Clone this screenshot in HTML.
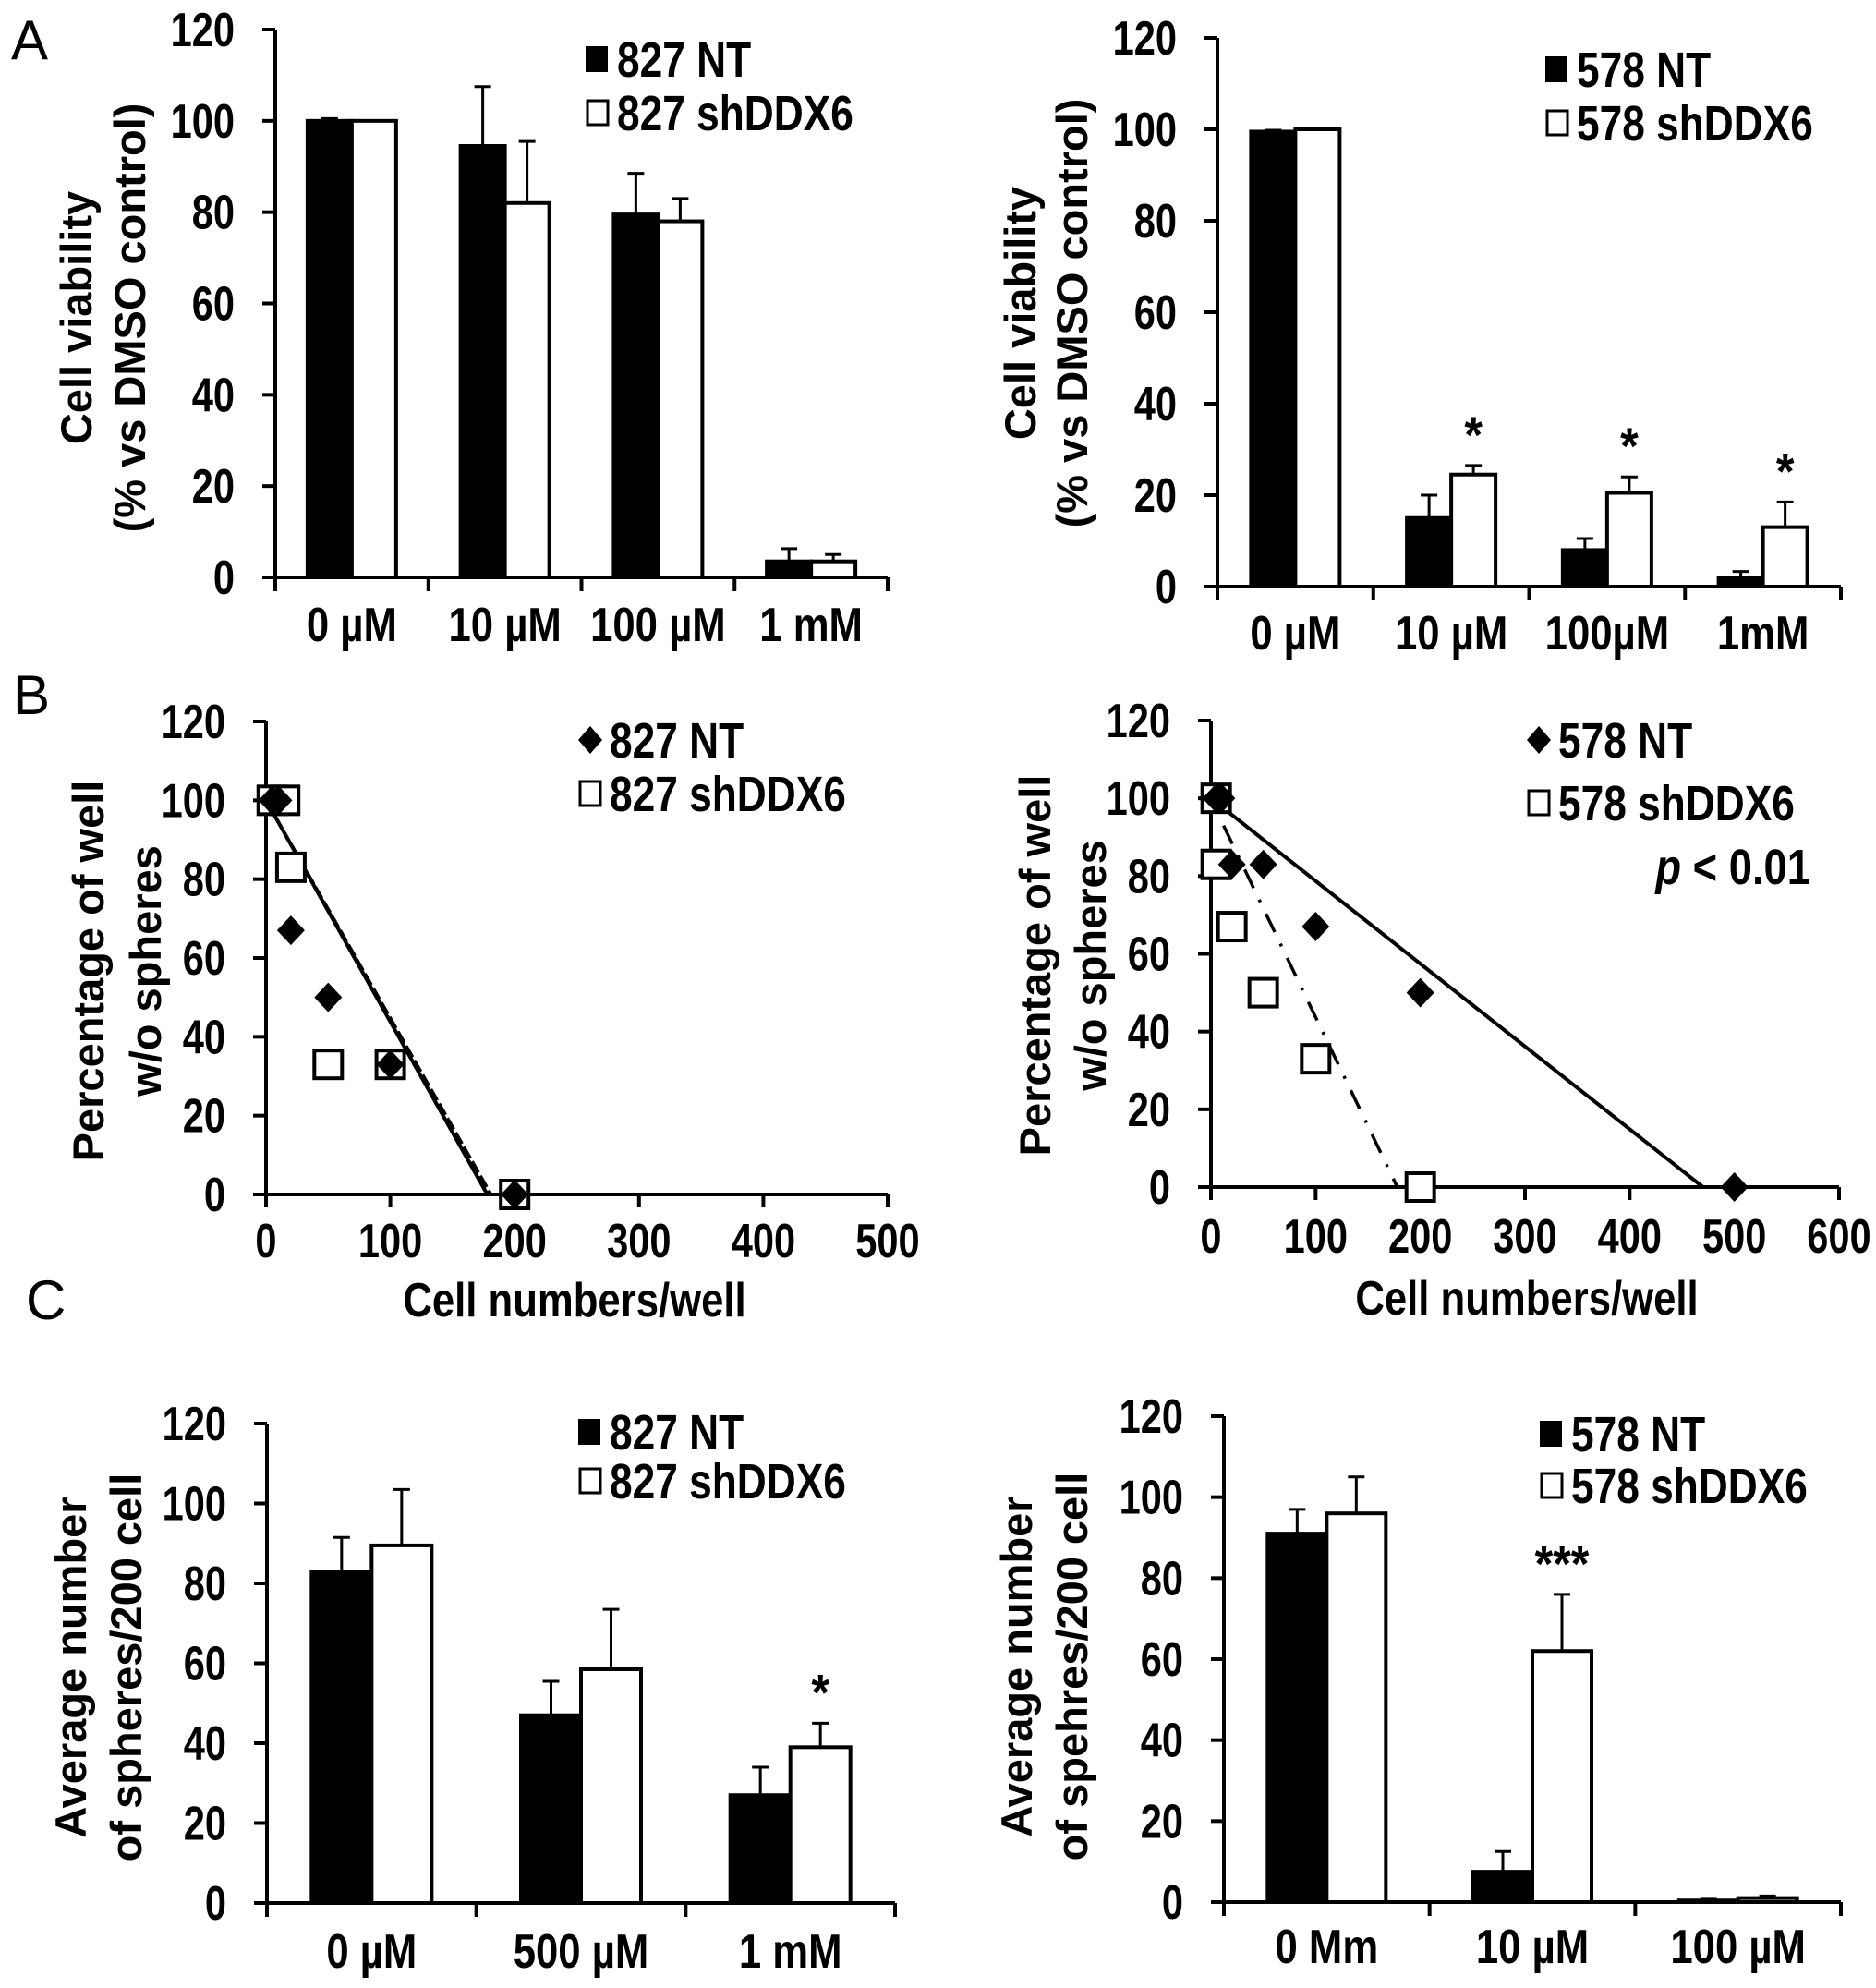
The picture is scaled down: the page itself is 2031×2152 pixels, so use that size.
<!DOCTYPE html>
<html><head><meta charset="utf-8"><style>
html,body{margin:0;padding:0;background:#fff;}
svg{display:block;}
text{font-family:"Liberation Sans",Arial,sans-serif;font-weight:bold;fill:#000;}
.ytitle{font-size:47px;}
.plab{font-size:60px;font-weight:normal;}
</style></head><body>
<svg id="fig" width="2031" height="2152" viewBox="0 0 2031 2152" xmlns="http://www.w3.org/2000/svg">
<text class="plab" x="12" y="64">A</text>
<text class="plab" x="14" y="773">B</text>
<text class="plab" x="28" y="1428">C</text>
</svg>
<script>
// ---- Panel A left data ----
const aLeftCats = ["0 µM","10 µM","100 µM","1 mM"];
const aLeftNT = [100,94.5,79.5,3.5];
const aLeftNTErr = [0.5,13,9,2.8];
const aLeftSh = [100,82,78,3.5];
const aLeftShErr = [0,13.5,5,1.5];
const aLeftStars = ["","","",""];
// ---- Panel A right data ----
const aRightCats = ["0 µM","10 µM","100µM","1mM"];
const aRightNT = [99.5,15,8,2];
const aRightNTErr = [0.3,5,2.5,1.3];
const aRightSh = [100,24.5,20.5,13];
const aRightShErr = [0,2,3.5,5.5];
const aRightStars = ["","*","*","*"];
// ---- Panel C left data ----
const cLeftCats = ["0 µM","500 µM","1 mM"];
const cLeftNT = [83,47,27];
const cLeftNTErr = [8.5,8.5,7];
const cLeftSh = [89.5,58.5,39];
const cLeftShErr = [14,15,6];
const cLeftStars = ["","","*"];
// ---- Panel C right data ----
const cRightCats = ["0 Mm","10 µM","100 µM"];
const cRightNT = [91,7.5,0.4];
const cRightNTErr = [6,5,0.3];
const cRightSh = [96,62,1];
const cRightShErr = [9,14,0.5];
const cRightStars = ["","***",""];
// ---- Panel B left data ----
const bLeftNTx = [5,10,20,50,100,200];
const bLeftNTy = [100,100,67,50,33,0];
const bLeftShx = [5,15,20,50,100,200];
const bLeftShy = [100,100,83,33,33,0];
const bLeftFitNT = [[0,100],[178,0]];
const bLeftFitSh = [[0,100],[181,0]];
const bLeftXTicks = [0,100,200,300,400,500];
// ---- Panel B right data ----
const bRightNTx = [5,10,20,50,100,200,500];
const bRightNTy = [100,100,83,83,67,50,0];
const bRightShx = [5,5,20,50,100,200];
const bRightShy = [100,83,67,50,33,0];
const bRightFitNT = [[0,100],[470,0]];
const bRightFitSh = [[12,93],[178,0]];
const bRightXTicks = [0,100,200,300,400,500,600];
const yTicks = [0,20,40,60,80,100,120];

const NS = "http://www.w3.org/2000/svg";
const svg = document.getElementById("fig");
function mk(tag, attrs, parent){
  const e = document.createElementNS(NS, tag);
  for (const k in attrs) e.setAttribute(k, attrs[k]);
  (parent||svg).appendChild(e);
  return e;
}
function ctext(g, x, y, anchor, size, sx, str){
  const t = mk("text",{x:0,y:0,"text-anchor":anchor,"font-size":size,transform:`translate(${x},${y}) scale(${sx},1)`},g);
  t.textContent = str;
  return t;
}

function yAxis(g, ax, y0, y120){
  const ys = v => y0 - (y0 - y120) * v / 120;
  const l = mk("line",{x1:ax,y1:y0,x2:ax,y2:y120,stroke:"#000","stroke-width":4},g);
  
  
  yTicks.forEach(v=>{
    const t = mk("line",{x1:ax-14,y1:ys(v),x2:ax,y2:ys(v),stroke:"#000","stroke-width":4},g);
    
    
    const tx = ctext(g, ax-44, ys(v)+18, "end", 52, 0.8, v);
    
    
  });
  return ys;
}

function yTitle(g, x1, x2, cy, l1, l2){
  const t1 = mk("text",{x:0,y:0,"text-anchor":"middle",class:"ytitle",transform:`translate(${x1+17},${cy}) rotate(-90)`},g);
  t1.textContent = l1;
  
  
  const t2 = mk("text",{x:0,y:0,"text-anchor":"middle",class:"ytitle",transform:`translate(${x2+17},${cy}) rotate(-90)`},g);
  t2.textContent = l2;
  
  
}

function legend(g, x, yA, yB, labA, labB, markA){
  if (markA === "diamond"){
    const d = mk("polygon",{points:`${x+13},${yA-15} ${x+26},${yA} ${x+13},${yA+15} ${x},${yA}`,fill:"#000"},g);
    
    
  } else {
    const r = mk("rect",{x:x,y:yA-14,width:24,height:28,fill:"#000"},g);
    
    
  }
  const r2 = mk("rect",{x:x+2,y:yB-13,width:22,height:26,fill:"#fff",stroke:"#000","stroke-width":3},g);
  
  
  const t1 = ctext(g, x+34, yA+19, "start", 54, 0.82, labA);
  
  
  const t2 = ctext(g, x+34, yB+19, "start", 54, 0.82, labB);
  
  
}

function barChart(name, o, cats, nt, ntErr, sh, shErr, stars){
  const g = mk("g",{});
  
  
  const ys = v => o.y0 - (o.y0 - o.y120) * v / 120;
  const cw = (o.x1 - o.ax) / cats.length;
  function bar(x, v, e, fill, nm){
    const r = mk("rect",{x:x,y:ys(v),width:o.bw,height:o.y0-ys(v),fill:fill,stroke:"#000","stroke-width":4},g);
    
    
    if (e > 0){
      const cx = x + o.bw/2;
      const l = mk("line",{x1:cx,y1:ys(v),x2:cx,y2:ys(v+e),stroke:"#000","stroke-width":3},g);
      
      
      const c = mk("line",{x1:cx-9,y1:ys(v+e),x2:cx+9,y2:ys(v+e),stroke:"#000","stroke-width":3},g);
      
      
    }
  }
  cats.forEach((c,i)=>{
    const cx = o.ax + cw*(i+0.5);
    bar(cx - o.bw, nt[i], ntErr[i], "#000", "bar-nt-"+i);
    bar(cx, sh[i], shErr[i], "#fff", "bar-shddx6-"+i);
    const lab = ctext(g, cx, o.labY, "middle", 52, 0.84, c);
    
    
    if (stars[i]){
      const s = ctext(g, cx+o.bw/2, ys(sh[i]+shErr[i])-14, "middle", 56, 0.9, stars[i]);
      
      
    }
  });
  yAxis(g, o.ax, o.y0, o.y120);
  const xl = mk("line",{x1:o.ax-14,y1:o.y0,x2:o.x1,y2:o.y0,stroke:"#000","stroke-width":4},g);
  
  
  for (let i=0;i<=cats.length;i++){
    const tx = o.ax + cw*i;
    const t = mk("line",{x1:tx,y1:o.y0,x2:tx,y2:o.y0+15,stroke:"#000","stroke-width":4},g);
    
    
  }
  yTitle(g, o.t1, o.t2, o.tcy, o.l1, o.l2);
  legend(g, o.legX, o.legA, o.legB, o.labA, o.labB, "square");
}

function scatterChart(name, o, ntx, nty, shx, shy, fitNT, fitSh, xt){
  const g = mk("g",{});
  
  
  const ys = v => o.y0 - (o.y0 - o.y120) * v / 120;
  const xs = v => o.ax + (o.x1 - o.ax) * v / o.xmax;
  yAxis(g, o.ax, o.y0, o.y120);
  const xl = mk("line",{x1:o.ax-14,y1:o.y0,x2:o.x1,y2:o.y0,stroke:"#000","stroke-width":4},g);
  
  
  xt.forEach(v=>{
    const t = mk("line",{x1:xs(v),y1:o.y0,x2:xs(v),y2:o.y0+14,stroke:"#000","stroke-width":4},g);
    
    
    const tl = ctext(g, xs(v), o.tickY, "middle", 52, 0.8, v);
    
    
  });
  const f1 = mk("line",{x1:xs(fitNT[0][0]),y1:ys(fitNT[0][1]),x2:xs(fitNT[1][0]),y2:ys(fitNT[1][1]),stroke:"#000","stroke-width":4},g);
  
  
  const f2 = mk("line",{x1:xs(fitSh[0][0]),y1:ys(fitSh[0][1]),x2:xs(fitSh[1][0]),y2:ys(fitSh[1][1]),stroke:"#000","stroke-width":3.5,"stroke-dasharray":o.dash},g);
  
  
  shx.forEach((x,i)=>{
    const r = mk("rect",{x:xs(x)-15,y:ys(shy[i])-15,width:30,height:30,fill:"#fff",stroke:"#000","stroke-width":4},g);
    
    
  });
  ntx.forEach((x,i)=>{
    const cx = xs(x), cy = ys(nty[i]);
    const d = mk("polygon",{points:`${cx},${cy-16} ${cx+15},${cy} ${cx},${cy+16} ${cx-15},${cy}`,fill:"#000"},g);
    
    
  });
  const xtitle = ctext(g, o.titleX, o.titleY, "middle", 52, 0.84, "Cell numbers/well");
  
  
  yTitle(g, o.t1, o.t2, o.tcy, "Percentage of well", "w/o spheres");
  legend(g, o.legX, o.legA, o.legB, o.labA, o.labB, "diamond");
}

barChart("chart-a-left",{ax:298,x1:961,y0:625,y120:32,bw:48,labY:694,t1:82,t2:140,tcy:344,l1:"Cell viability",l2:"(% vs DMSO control)",legX:634,legA:64,legB:122,labA:"827 NT",labB:"827 shDDX6"},aLeftCats,aLeftNT,aLeftNTErr,aLeftSh,aLeftShErr,aLeftStars);
barChart("chart-a-right",{ax:1318,x1:1993,y0:635,y120:41,bw:48,labY:703,t1:1104,t2:1160,tcy:339,l1:"Cell viability",l2:"(% vs DMSO control)",legX:1673,legA:75,legB:133,labA:"578 NT",labB:"578 shDDX6"},aRightCats,aRightNT,aRightNTErr,aRightSh,aRightShErr,aRightStars);
barChart("chart-c-left",{ax:289,x1:969,y0:2060,y120:1541,bw:65,labY:2130,t1:76,t2:136,tcy:1805,l1:"Average number",l2:"of spheres/200 cell",legX:626,legA:1550,legB:1603,labA:"827 NT",labB:"827 shDDX6"},cLeftCats,cLeftNT,cLeftNTErr,cLeftSh,cLeftShErr,cLeftStars);
barChart("chart-c-right",{ax:1325,x1:1993,y0:2059,y120:1533,bw:64,labY:2125,t1:1100,t2:1160,tcy:1804,l1:"Average number",l2:"of spehres/200 cell",legX:1667,legA:1552,legB:1608,labA:"578 NT",labB:"578 shDDX6"},cRightCats,cRightNT,cRightNTErr,cRightSh,cRightShErr,cRightStars);
scatterChart("chart-b-left",{ax:288,x1:961,xmax:500,y0:1293,y120:781,tickY:1361,titleX:622,titleY:1425,t1:95,t2:157,tcy:1051,legX:626,legA:801,legB:859,labA:"827 NT",labB:"827 shDDX6",dash:"14 4"},bLeftNTx,bLeftNTy,bLeftShx,bLeftShy,bLeftFitNT,bLeftFitSh,bLeftXTicks);
scatterChart("chart-b-right",{ax:1311,x1:1991,xmax:600,y0:1285,y120:780,tickY:1356,titleX:1653,titleY:1423,t1:1120,t2:1180,tcy:1045,legX:1653,legA:801,legB:869,labA:"578 NT",labB:"578 shDDX6",dash:"22 14 3 14"},bRightNTx,bRightNTy,bRightShx,bRightShy,bRightFitNT,bRightFitSh,bRightXTicks);

const p = mk("text",{x:0,y:0,"text-anchor":"end","font-size":54,transform:"translate(1960,957) scale(0.84,1)"});


const pi = mk("tspan",{"font-style":"italic"},p);
pi.textContent = "p";
const pr = mk("tspan",{},p);
pr.textContent = " < 0.01";
</script>
</body></html>
